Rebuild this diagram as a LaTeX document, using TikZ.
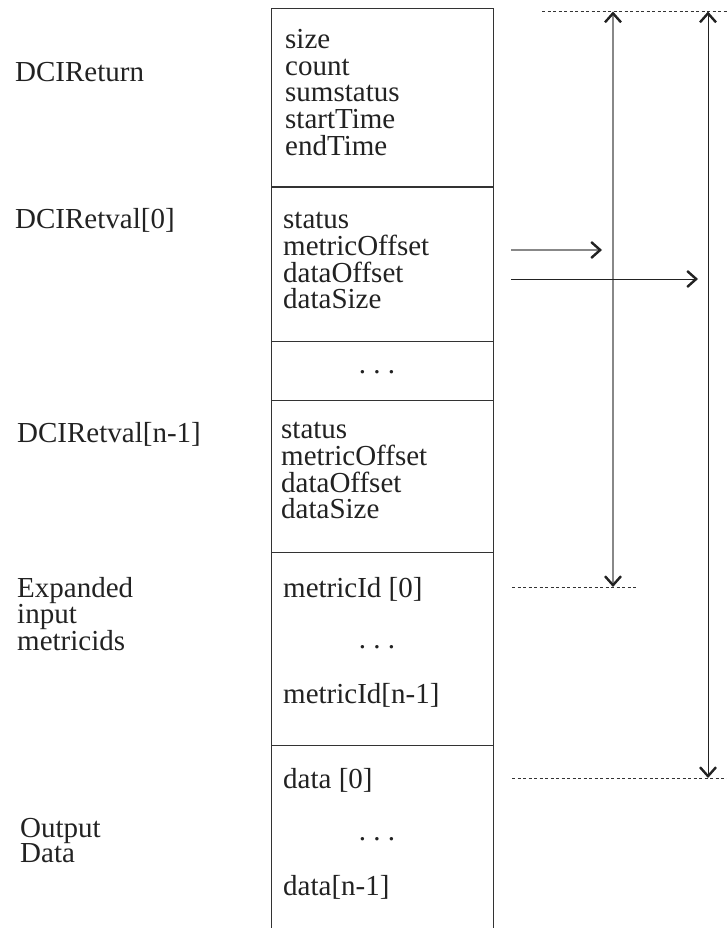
\documentclass[tikz,border=0pt]{standalone}
\usepackage{fontspec}
\setmainfont{Liberation Serif}
\usetikzlibrary{arrows.meta}
\definecolor{ink}{HTML}{222222}
\definecolor{rule}{HTML}{333333}
\definecolor{grayline}{HTML}{888888}
\tikzset{
  txt/.style={anchor=base west, inner sep=0pt, text=ink, text height=18pt, text depth=5pt, font=\fontsize{29}{26}\selectfont},
  dotsnode/.style={anchor=base, inner sep=0pt, text=ink, text height=18pt, text depth=5pt, font=\fontsize{29}{26}\selectfont},
  boxline/.style={draw=rule, line width=1pt},
  dotline/.style={draw=rule, line width=0.9pt, dash pattern=on 3pt off 2.5pt},
  barbtip/.tip={Straight Barb[length=9pt, width=16pt, line width=2.4pt, color=ink]},
  grayarrow/.style={draw=grayline, line width=1.3pt},
  blackarrow/.style={draw=ink, line width=1pt}
}
\begin{document}
\begin{tikzpicture}[x=1pt, y=-1pt]
\useasboundingbox (0,0) rectangle (727,928);
\fill[white] (0,0) rectangle (727,928);
% box
\coordinate (bTL) at (271,9);
\coordinate (bTR) at (493,9);
\coordinate (bBL) at (271,930);
\coordinate (bBR) at (493,930);
\draw[boxline] (bBL) -- (bTL) -- (bTR) -- (bBR);
\foreach \yy/\nm in {187/d1, 341/d2, 400/d3, 552/d4, 745/d5}{
  \coordinate (\nm L) at (271,\yy);
  \coordinate (\nm R) at (493,\yy);
  \draw[boxline] (\nm L) -- (\nm R);
}
% left labels
\node[txt] (lReturn) at (15,82) {DCIReturn};
\node[txt] (lRet0) at (15,228) {DCIRetval[0]};
\node[txt] (lRetn) at (17,442) {DCIRetval[n-1]};
\node[txt] (lExp1) at (17,597) {Expanded};
\node[txt] (lExp2) at (17,623) {input};
\node[txt] (lExp3) at (17,650) {metricids};
\node[txt] (lOut1) at (20,837) {Output};
\node[txt] (lOut2) at (20,862) {Data};
% section 1
\node[txt] (s1a) at (285,49) {size};
\node[txt] (s1b) at (285,76) {count};
\node[txt] (s1c) at (285,102) {sumstatus};
\node[txt] (s1d) at (285,129) {startTime};
\node[txt] (s1e) at (285,156) {endTime};
% section 2
\node[txt] (s2a) at (283,228) {status};
\node[txt] (s2b) at (283,255) {metricOffset};
\node[txt] (s2c) at (283,282) {dataOffset};
\node[txt] (s2d) at (283,308) {dataSize};
% dots
\node[dotsnode] (dots1) at (377,373) {.\ .\ .};
% section 3
\node[txt] (s3a) at (281,438) {status};
\node[txt] (s3b) at (281,465) {metricOffset};
\node[txt] (s3c) at (281,492) {dataOffset};
\node[txt] (s3d) at (281,518) {dataSize};
% section 4
\node[txt] (s4a) at (283,597) {metricId [0]};
\node[dotsnode] (dots2) at (377,648) {.\ .\ .};
\node[txt] (s4b) at (283,703) {metricId[n-1]};
% section 5
\node[txt] (s5a) at (283,788) {data [0]};
\node[dotsnode] (dots3) at (377,840) {.\ .\ .};
\node[txt] (s5b) at (283,895) {data[n-1]};
% dotted reference lines
\coordinate (topL) at (542,11.5);
\coordinate (topR) at (727,11.5);
\coordinate (midL) at (512,587);
\coordinate (midR) at (638,587);
\coordinate (botL) at (512,778);
\coordinate (botR) at (727,778);
\draw[dotline] (topL) -- (topR);
\draw[dotline] (midL) -- (midR);
\draw[dotline] (botL) -- (botR);
% vertical arrows
\coordinate (v1t) at (613,11.5);
\coordinate (v1b) at (613,587);
\coordinate (v2t) at (708,11.5);
\coordinate (v2b) at (708,778);
\draw[grayarrow, barbtip-barbtip] (v1t) -- (v1b);
\draw[blackarrow, barbtip-barbtip] (v2t) -- (v2b);
% horizontal arrows
\coordinate (h1s) at (511,250);
\coordinate (h1e) at (602,250);
\coordinate (h2s) at (511,279);
\coordinate (h2e) at (698,279);
\draw[grayarrow, -barbtip] (h1s) -- (h1e);
\draw[blackarrow, -barbtip] (h2s) -- (h2e);
\end{tikzpicture}
\end{document}
